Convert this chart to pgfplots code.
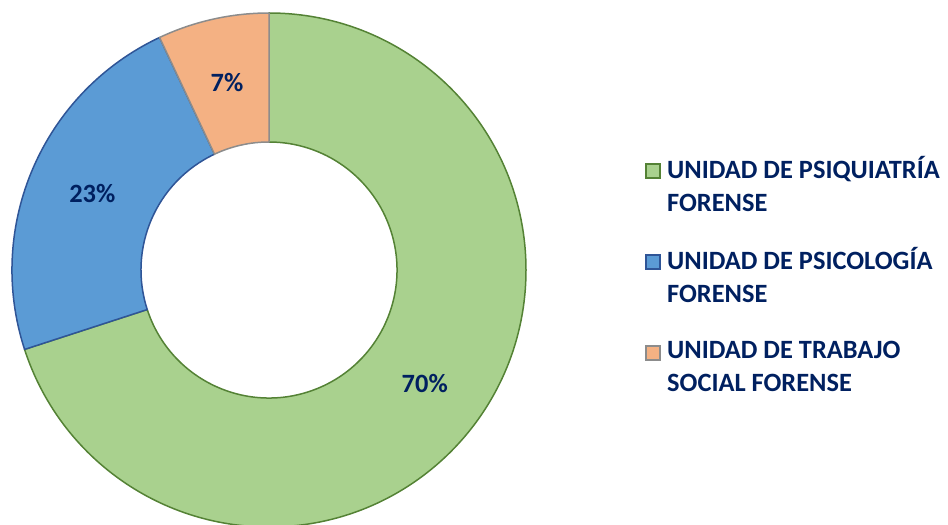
\documentclass[border=0pt]{standalone}
\usepackage{fontspec}
\setmainfont{Carlito}
\usepackage{pgfplots}
\usepackage{pgfplotstable}
\pgfplotsset{compat=1.18}

\definecolor{PsiqFill}{HTML}{A9D18E}
\definecolor{PsiqEdge}{HTML}{548235}
\definecolor{PsicFill}{HTML}{5B9BD5}
\definecolor{PsicEdge}{HTML}{2F5597}
\definecolor{TrabFill}{HTML}{F4B183}
\definecolor{TrabEdge}{HTML}{8C8C8C}
\definecolor{TextNavy}{HTML}{002060}

% share of each unit, percent
\pgfplotstableread{
share
70
23
7
}\sharetable

\def\cx{269}
\def\cy{255}
\def\Ro{257bp}
\def\Ri{128bp}
\def\Rl{192.5bp}

\tikzset{
  legtext/.style={anchor=base west, inner sep=0pt, text=TextNavy,
    font=\fontsize{26.5}{30}\selectfont\bfseries},
  pctlabel/.style={inner sep=0pt, text=TextNavy,
    font=\fontsize{26.5}{30}\selectfont\bfseries},
}

\newcommand\sector[4]{%
  \filldraw[fill=#3, draw=#4, line width=1.5bp, line join=round]
    ([shift={(#1:\Ro)}]axis cs:\cx,\cy) arc[start angle=#1, end angle=#2, radius=\Ro]
    -- ([shift={(#2:\Ri)}]axis cs:\cx,\cy) arc[start angle=#2, end angle=#1, radius=\Ri]
    -- cycle;}

\begin{document}
\begin{tikzpicture}
\pgfplotstablegetelem{0}{share}\of\sharetable\let\shareA\pgfplotsretval
\pgfplotstablegetelem{1}{share}\of\sharetable\let\shareB\pgfplotsretval
\pgfplotstablegetelem{2}{share}\of\sharetable\let\shareC\pgfplotsretval
\pgfmathsetmacro\angA{90}
\pgfmathsetmacro\angB{\angA-3.6*\shareA}
\pgfmathsetmacro\angC{\angB-3.6*\shareB}
\pgfmathsetmacro\angD{\angC-3.6*\shareC}
\pgfmathsetmacro\midA{(\angA+\angB)/2}
\pgfmathsetmacro\midB{(\angB+\angC)/2}
\pgfmathsetmacro\midC{(\angC+\angD)/2}
\begin{axis}[
    at={(0,0)}, anchor=south west,
    x=1bp, y=1bp,
    xmin=0, xmax=948,
    ymin=0, ymax=525,
    hide axis,
    clip=false,
]
\sector{\angA}{\angB}{PsiqFill}{PsiqEdge}
\sector{\angB}{\angC}{PsicFill}{PsicEdge}
\sector{\angC}{\angD}{TrabFill}{TrabEdge}

\node[pctlabel] at ([shift={(\midA:\Rl)}]axis cs:\cx,\cy) {\shareA\%};
\node[pctlabel] at ([shift={(\midB:\Rl)}]axis cs:\cx,\cy) {\shareB\%};
\node[pctlabel] at ([shift={(\midC:\Rl)}]axis cs:\cx,\cy) {\shareC\%};

% legend
\filldraw[fill=PsiqFill, draw=PsiqEdge, line width=1.5bp] (axis cs:646,347) rectangle (axis cs:660,361);
\filldraw[fill=PsicFill, draw=PsicEdge, line width=1.5bp] (axis cs:646,256) rectangle (axis cs:660,270);
\filldraw[fill=TrabFill, draw=TrabEdge, line width=1.5bp] (axis cs:646,165) rectangle (axis cs:660,179);

\node[legtext] at (axis cs:667,347) {UNIDAD DE PSIQUIATRÍA};
\node[legtext] at (axis cs:667,313.5) {FORENSE};
\node[legtext] at (axis cs:667,256) {UNIDAD DE PSICOLOGÍA};
\node[legtext] at (axis cs:667,223) {FORENSE};
\node[legtext] at (axis cs:667,167) {UNIDAD DE TRABAJO};
\node[legtext] at (axis cs:667,133.5) {SOCIAL FORENSE};
\end{axis}
\pgfresetboundingbox
\path[use as bounding box] (0,0) rectangle (948bp,525bp);
\end{tikzpicture}
\end{document}
